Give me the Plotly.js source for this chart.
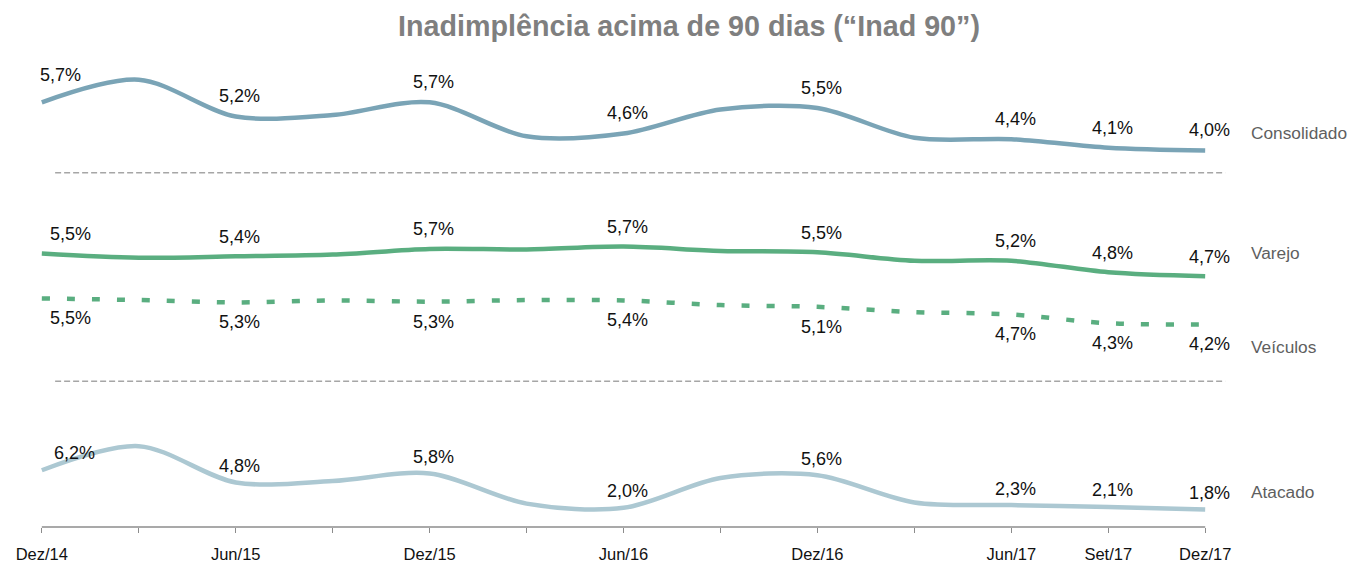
<!DOCTYPE html>
<html>
<head>
<meta charset="utf-8">
<script src="https://cdn.plot.ly/plotly-3.0.1.min.js"></script>
<style>html,body{margin:0;padding:0;background:#fff}#chart{width:1350px;height:564px}</style>
</head>
<body>
<div id="chart"></div>
<script>
// ---- data ----
const quarters = ['Dez/14','Mar/15','Jun/15','Set/15','Dez/15','Mar/16','Jun/16','Set/16','Dez/16','Mar/17','Jun/17','Set/17','Dez/17'];
const tickLabels = ['Dez/14','','Jun/15','','Dez/15','','Jun/16','','Dez/16','','Jun/17','Set/17','Dez/17'];
const seriesNames = ['Consolidado','Varejo','Veículos','Atacado'];
const consolidado = [5.7, 6.5, 5.2, 5.25, 5.7, 4.5, 4.6, 5.45, 5.5, 4.45, 4.4, 4.1, 4.0];
const varejo      = [5.5, 5.35, 5.4, 5.46, 5.66, 5.64, 5.74, 5.59, 5.54, 5.24, 5.24, 4.84, 4.7];
const veiculos    = [5.5, 5.42, 5.3, 5.4, 5.34, 5.42, 5.4, 5.17, 5.08, 4.82, 4.7, 4.26, 4.2];
const atacado     = [6.2, 8.9, 4.84, 5.0, 5.84, 2.47, 2.0, 5.34, 5.64, 2.6, 2.3, 2.1, 1.8];
const labeledIdx  = [0, 2, 4, 6, 8, 10, 11, 12];
const titleText = 'Inadimplência acima de 90 dias (“Inad 90”)';

// ---- styles / geometry ----
const FONT = 'Liberation Sans, Arial, sans-serif';
const PLOT_TOP = 60, PLOT_BOTTOM = 526.7, PLOT_H = PLOT_BOTTOM - PLOT_TOP;
const paperY = px => (PLOT_BOTTOM - px) / PLOT_H;
const paperX = px => (px - 35.88) / 1174.9;
const fmt = v => v.toFixed(1).replace('.', ',') + '%';

const cfg = [
  {name: seriesNames[0], y: consolidado, ya: 'y',  color: 'rgb(122,164,182)', dash: null,       shift: 20,   firstShift: [15, 27],  labelY: 133, dom: [60, 172],  range: [3.237, 7.195]},
  {name: seriesNames[1], y: varejo,      ya: 'y2', color: 'rgb(90,174,128)',  dash: null,       shift: 19.5, firstShift: [25, 19],  labelY: 253, dom: [172, 286], range: [4.349, 8.363]},
  {name: seriesNames[2], y: veiculos,    ya: 'y3', color: 'rgb(90,174,128)',  dash: '8px,17px', shift: -20,  firstShift: [25, -20], labelY: 347, dom: [286, 381], range: [1.365, 6.115]},
  {name: seriesNames[3], y: atacado,     ya: 'y4', color: 'rgb(172,200,210)', dash: null,       shift: 16.5, firstShift: [29, 17],  labelY: 492, dom: [381, 526.7], range: [-0.149, 16.166]}
];

const traces = cfg.map(c => {
  const line = {color: c.color, width: 4.5, shape: 'spline', smoothing: 0.9};
  if (c.dash) line.dash = c.dash;
  return {type: 'scatter', mode: 'lines', x: quarters, y: c.y, xaxis: 'x', yaxis: c.ya, name: c.name,
          line: line, hoverinfo: 'skip', showlegend: false, cliponaxis: false};
});

const annotations = [];
cfg.forEach(c => {
  labeledIdx.forEach(i => {
    annotations.push({
      x: quarters[i], y: c.y[i], xref: 'x', yref: c.ya, text: fmt(c.y[i]), showarrow: false,
      xanchor: 'center', yanchor: 'middle',
      xshift: (i === 0 ? c.firstShift[0] : 0) + 4,
      yshift: i === 0 ? c.firstShift[1] : c.shift,
      font: {family: FONT, size: 18, color: '#111'}
    });
  });
  annotations.push({
    x: paperX(1249), y: paperY(c.labelY), xref: 'paper', yref: 'paper', text: c.name, showarrow: false,
    xanchor: 'left', yanchor: 'middle', font: {family: FONT, size: 17.3, color: '#5f5f5f'}
  });
});

const shapes = [
  {type: 'line', xref: 'paper', yref: 'paper', x0: paperX(41.7), x1: paperX(1205), y0: 0, y1: 0, line: {color: '#8c8c8c', width: 1.3}},
  {type: 'line', xref: 'paper', yref: 'paper', x0: paperX(55), x1: paperX(1225), y0: paperY(172.7), y1: paperY(172.7), line: {color: '#a6a6a6', width: 1.5, dash: '6px,3px'}},
  {type: 'line', xref: 'paper', yref: 'paper', x0: paperX(55), x1: paperX(1225), y0: paperY(381), y1: paperY(381), line: {color: '#a6a6a6', width: 1.5, dash: '6px,3px'}}
];

const layout = {
  width: 1350, height: 564,
  margin: {l: 35.88, r: 139.22, t: PLOT_TOP, b: 564 - PLOT_BOTTOM, pad: 0},
  paper_bgcolor: 'rgba(0,0,0,0)', plot_bgcolor: 'rgba(0,0,0,0)',
  title: {text: titleText, x: 689 / 1350, xref: 'container', xanchor: 'center', y: 1 - 26 / 564, yref: 'container', yanchor: 'middle',
          font: {family: FONT, size: 28.7, color: '#7f7f7f', weight: 'bold'}},
  xaxis: {type: 'category', range: [-0.06, 12.06], tickvals: quarters, ticktext: tickLabels, anchor: 'y4',
          showgrid: false, zeroline: false, showline: false, ticks: 'outside', ticklen: 5, tickwidth: 1.3, tickcolor: '#8c8c8c',
          ticklabelstandoff: 7, tickfont: {family: FONT, size: 16.5, color: '#111'}, fixedrange: true},
  annotations: annotations, shapes: shapes, showlegend: false
};
cfg.forEach((c, k) => {
  layout['yaxis' + (k === 0 ? '' : (k + 1))] = {
    domain: [paperY(c.dom[1]), paperY(c.dom[0])], range: c.range, anchor: 'x',
    visible: false, showgrid: false, zeroline: false, fixedrange: true
  };
});

Plotly.newPlot('chart', traces, layout, {staticPlot: true, displayModeBar: false});
</script>
</body>
</html>
